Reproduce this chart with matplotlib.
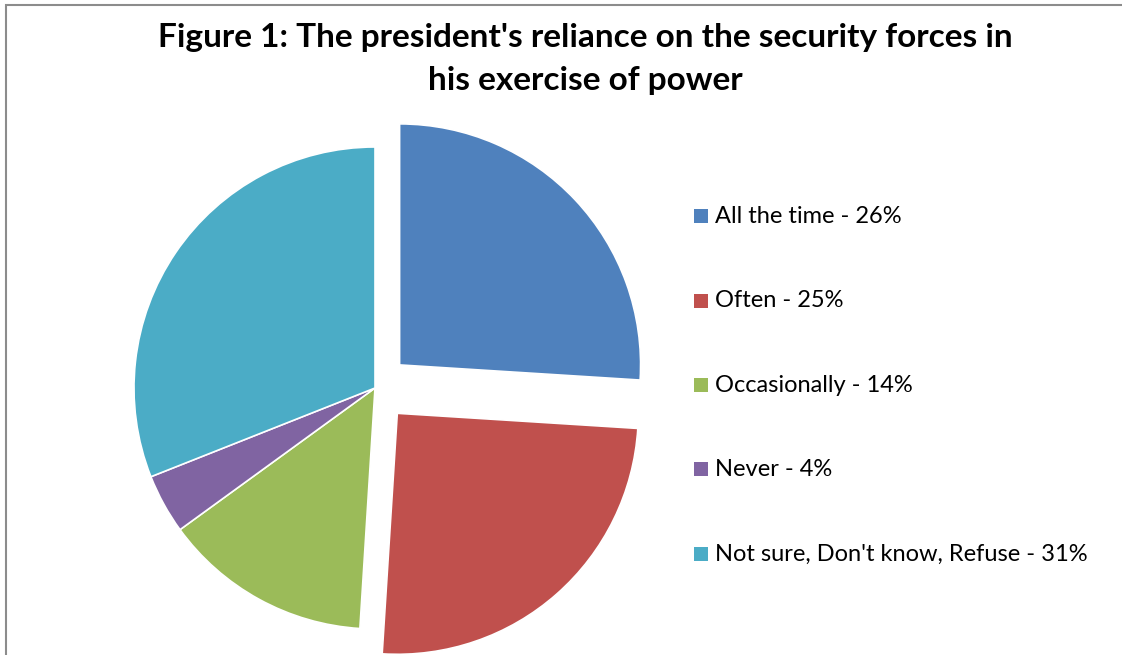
import matplotlib.pyplot as plt
from matplotlib.patches import Rectangle

# Datos del gráfico
labels = ["All the time", "Often", "Occasionally", "Never",
          "Not sure, Don't know, Refuse"]
values = [26, 25, 14, 4, 31]
explode = [0.14, 0.14, 0, 0, 0]
colors = ["#4F81BD", "#C0504D", "#9BBB59", "#8064A2", "#4BACC6"]

W, H = 1122, 655
FONT = "Lato"


def main():
    fig = plt.figure(figsize=(W / 100, H / 100), dpi=100)

    # Marco gris del gráfico (recortado a la derecha y abajo)
    fig.patches.append(Rectangle((6 / W, -0.1), 1.2, 1 - 5 / H + 0.1,
                                 transform=fig.transFigure, fill=False,
                                 edgecolor="#8C8C8C", linewidth=1.5))

    # Ejes cuadrados: centro en (375, 388) px, radio 241 px
    r_px = 241
    L = 1.4
    side = 2 * L * r_px
    cx, cy = 375, 388
    ax = fig.add_axes([(cx - side / 2) / W, (H - cy - side / 2) / H,
                       side / W, side / H])
    ax.pie(values, explode=explode, colors=colors, startangle=90,
           counterclock=False, radius=1,
           wedgeprops=dict(edgecolor="white", linewidth=1.2))
    ax.set_xlim(-L, L)
    ax.set_ylim(-L, L)
    ax.set_aspect("equal")
    ax.axis("off")

    # Título
    fig.text(585 / W, 1 - 59 / H,
             "Figure 1: The president's reliance on the security forces in\nhis exercise of power",
             ha="center", va="center", fontsize=24, fontweight="bold",
             family=FONT, linespacing=1.55)

    # Leyenda manual
    ys = [216, 301, 385, 469, 554]
    for lab, val, col, y in zip(labels, values, colors, ys):
        fig.patches.append(Rectangle((694 / W, 1 - (y + 7) / H), 14 / W, 14 / H,
                                     transform=fig.transFigure,
                                     facecolor=col, edgecolor="none"))
        fig.text(715 / W, 1 - y / H, f"{lab} - {val}%", ha="left",
                 va="center", fontsize=17, family=FONT)

    plt.savefig("out.png", dpi=100)


if __name__ == "__main__":
    main()
